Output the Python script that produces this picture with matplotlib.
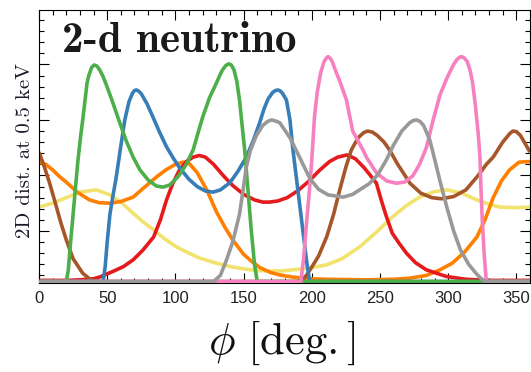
import os
import matplotlib
matplotlib.use('Agg')
from matplotlib import pyplot as plt
from matplotlib.font_manager import FontProperties
from matplotlib.ticker import MultipleLocator

plt.rcParams['mathtext.fontset'] = 'cm'

# floor level of the curves
Z = 0.09

phi_red = [0, 20, 30, 40, 44.5, 55, 62, 69, 76, 84, 89, 93.5, 98, 103, 108, 113, 117.5, 122, 128, 135,
           142, 150, 158, 164, 169, 175, 182, 190, 198, 206, 213, 219, 226, 232, 238, 243, 247.4, 251,
           254.7, 259, 264, 269.4, 276, 284, 298.7, 313, 330, 360]
red = [0.11, 0.11, 0.12, 0.14, 0.17, 0.28, 0.36, 0.48, 0.65, 0.89, 1.2, 1.56, 1.85, 2.1, 2.25, 2.33, 2.36,
       2.33, 2.2, 2.0, 1.82, 1.66, 1.56, 1.52, 1.52, 1.54, 1.6, 1.73, 1.9, 2.1, 2.25, 2.33, 2.37, 2.3,
       2.15, 2.0, 1.86, 1.55, 1.26, 0.96, 0.78, 0.6, 0.43, 0.3, 0.18, 0.13, 0.11, 0.11]

phi_orange = [0, 5, 10, 15, 20, 28, 37, 44, 52, 60, 69, 77, 86, 93, 100, 105.6, 110, 116, 123, 130, 136,
              142, 150, 156, 162, 170, 178, 186, 198, 211, 240, 260, 272, 284, 294, 303, 312, 321, 327,
              333, 339, 345, 352, 360]
orange = [2.24, 2.2, 2.1, 1.98, 1.88, 1.7, 1.56, 1.51, 1.5, 1.53, 1.61, 1.78, 1.97, 2.1, 2.2, 2.24, 2.22,
          2.05, 1.74, 1.35, 1.08, 0.84, 0.58, 0.45, 0.34, 0.25, 0.2, 0.17, 0.14, 0.13, 0.12, 0.13, 0.15,
          0.2, 0.3, 0.42, 0.62, 0.89, 1.2, 1.6, 1.9, 2.1, 2.24, 2.25]

phi_yellow = [0, 10, 20, 30, 42, 52, 60, 69, 76, 84, 92, 101, 110, 118, 130, 142, 155, 167, 178, 186, 198,
              211, 222, 235, 247, 259, 269, 279, 290, 299, 310, 321, 330, 338, 348, 360]
yellow = [1.43, 1.5, 1.6, 1.7, 1.74, 1.65, 1.52, 1.32, 1.17, 1.02, 0.86, 0.71, 0.6, 0.51, 0.42, 0.35, 0.3,
          0.28, 0.28, 0.3, 0.33, 0.39, 0.5, 0.71, 0.97, 1.25, 1.45, 1.61, 1.71, 1.74, 1.68, 1.56, 1.48,
          1.43, 1.42, 1.43]

phi_green = [0, 20, 21.5, 23, 25, 27, 28.6, 30.5, 32.3, 35.2, 36.5, 38.7, 40.5, 42.5, 44.5, 47, 49.4, 54,
             59.2, 64, 69, 74, 80, 86, 91, 96, 102, 108, 113, 117, 120, 125, 130, 132.5, 134.5, 137,
             139, 141, 143, 145, 147, 150.8, 153, 155.5, 158, 160, 360]
green = [Z, Z, 0.3, 0.75, 1.3, 1.85, 2.28, 2.7, 3.05, 3.66, 3.8, 3.95, 3.99, 3.97, 3.9, 3.78, 3.63, 3.32,
         2.95, 2.62, 2.33, 2.1, 1.92, 1.81, 1.79, 1.83, 1.98, 2.2, 2.46, 2.8, 3.05, 3.4, 3.66, 3.8, 3.9,
         3.98, 4.01, 3.99, 3.9, 3.7, 3.36, 2.46, 1.8, 1.05, 0.4, Z, Z]

phi_blue = [0, 47, 48.5, 50, 52, 54, 56.5, 59.2, 62.9, 66, 68.5, 70, 71.4, 73, 75, 79, 83.6, 88, 93.4, 98,
            103, 110, 116, 122, 127.6, 133, 140, 146, 152, 157, 161.8, 165, 168, 171.5, 173.5, 175.2,
            177, 178.5, 181.4, 184, 186.2, 189, 191.5, 194, 196.5, 198.5, 360]
blue = [Z, Z, 0.35, 0.8, 1.3, 1.6, 1.95, 2.4, 3.0, 3.33, 3.48, 3.53, 3.54, 3.52, 3.47, 3.3, 3.05, 2.8,
        2.52, 2.33, 2.14, 1.93, 1.8, 1.72, 1.7, 1.74, 1.87, 2.08, 2.33, 2.62, 2.95, 3.2, 3.38, 3.5, 3.53,
        3.54, 3.52, 3.48, 3.36, 3.0, 2.46, 1.9, 1.4, 0.9, 0.4, Z, Z]

phi_pink = [0, 192, 194, 196, 198.5, 200, 202, 204, 206.5, 209, 210.5, 212, 213.5, 215, 218, 220.5, 225.4,
            230, 237.5, 240, 247.6, 255, 262, 268, 274, 279, 284, 289, 294, 299, 304, 306.5, 308.5, 310,
            312, 314, 316, 318, 320, 322, 323.3, 324, 325, 326.5, 328, 360]
pink = [Z, Z, 0.5, 1.1, 1.8, 2.28, 3.06, 3.5, 3.85, 4.05, 4.11, 4.14, 4.11, 4.05, 3.85, 3.7, 3.36, 2.8,
        2.46, 2.33, 2.04, 1.9, 1.86, 1.88, 1.99, 2.2, 2.5, 3.0, 3.45, 3.75, 4.0, 4.09, 4.13, 4.14, 4.11,
        4.05, 3.9, 3.66, 3.25, 2.76, 2.33, 1.8, 1.2, 0.55, Z, Z]

phi_gray = [0, 128, 133, 137.5, 142, 147, 150, 152, 155, 159.4, 164, 167.5, 170.4, 173.5, 176.5, 184, 191,
            198.5, 205, 212, 223, 230, 235, 242, 248, 254.7, 260, 266, 271.8, 274.5, 277, 279.5, 282,
            286.5, 289, 294, 299, 304, 309, 315, 321, 326, 329, 360]
gray = [Z, Z, 0.2, 0.48, 0.8, 1.3, 1.8, 2.15, 2.45, 2.72, 2.9, 2.97, 3.0, 2.98, 2.95, 2.68, 2.33, 1.95,
        1.75, 1.65, 1.61, 1.66, 1.74, 1.85, 2.0, 2.28, 2.55, 2.8, 2.95, 2.99, 3.0, 2.97, 2.9, 2.64, 2.4,
        1.9, 1.43, 1.0, 0.66, 0.4, 0.22, 0.1, Z, Z]

phi_brown = [0, 4, 7.8, 12, 16, 20, 25, 32, 38, 44, 192, 196, 200, 205, 211, 216, 220.5, 225, 229, 234,
             238, 241, 244.5, 248, 253, 257, 263, 267, 272, 280, 288, 295, 304, 313, 322, 328, 333, 340,
             345, 347.5, 350, 353, 357, 360]
brown = [2.42, 2.15, 1.86, 1.5, 1.15, 0.84, 0.5, 0.24, 0.12, Z, Z, 0.2, 0.35, 0.55, 0.9, 1.3, 1.74, 2.15,
         2.46, 2.68, 2.77, 2.8, 2.78, 2.72, 2.6, 2.46, 2.2, 2.05, 1.86, 1.68, 1.6, 1.58, 1.62, 1.74, 2.0,
         2.2, 2.33, 2.6, 2.75, 2.8, 2.79, 2.72, 2.55, 2.42]

curves = [
    (phi_yellow, yellow, '#f2e26e'),
    (phi_orange, orange, '#ff7f00'),
    (phi_red, red, '#e41a1c'),
    (phi_brown, brown, '#a65628'),
    (phi_blue, blue, '#377eb8'),
    (phi_green, green, '#4daf4a'),
    (phi_pink, pink, '#f781bf'),
    (phi_gray, gray, '#999999'),
]

ttf_dir = os.path.join(matplotlib.get_data_path(), 'fonts', 'ttf')
cm_bold = FontProperties(fname=os.path.join(ttf_dir, 'cmb10.ttf'), size=31)
cm_roman = FontProperties(fname=os.path.join(ttf_dir, 'cmr10.ttf'), size=15)

fig = plt.figure(figsize=(5.31, 3.72), dpi=100)
ax = fig.add_axes([39 / 531, 89 / 372, 491 / 531, 273 / 372])

for i, (x, y, c) in enumerate(curves):
    ax.plot(x, y, color=c, lw=2.6, zorder=2 + i * 0.1, solid_capstyle='butt',
            solid_joinstyle='round')

ax.set_xlim(0, 360)
ax.set_ylim(0.063, 4.98)
ax.xaxis.set_major_locator(MultipleLocator(50))
ax.xaxis.set_minor_locator(MultipleLocator(10))
ax.yaxis.set_major_locator(MultipleLocator(1))
ax.yaxis.set_minor_locator(MultipleLocator(0.2))
ax.tick_params(which='both', direction='in', top=True, right=True, width=0.8)
ax.tick_params(which='major', length=7)
ax.tick_params(which='minor', length=3.5)
ax.tick_params(axis='y', labelleft=False)
ax.tick_params(axis='x', pad=6)
for lab in ax.get_xticklabels():
    lab.set_fontfamily('Liberation Sans')
    lab.set_fontsize(12)
    lab.set_color('#222222')

ax.text(0.047, 0.846, '2-d neutrino', transform=ax.transAxes, fontproperties=cm_bold,
        color='#1a1a1a', ha='left', va='baseline', zorder=5)

fig.text(25 / 531, (372 - 151) / 372, '2D dist. at 0.5 keV', fontproperties=cm_roman,
         rotation=90, ha='center', va='center', color='#1a1a2a')
fig.text(282 / 531, (372 - 343) / 372, r'$\phi\ [\mathrm{deg.}]$', fontsize=32,
         ha='center', va='center', color='#111111')

fig.savefig('out.png', dpi=100)
